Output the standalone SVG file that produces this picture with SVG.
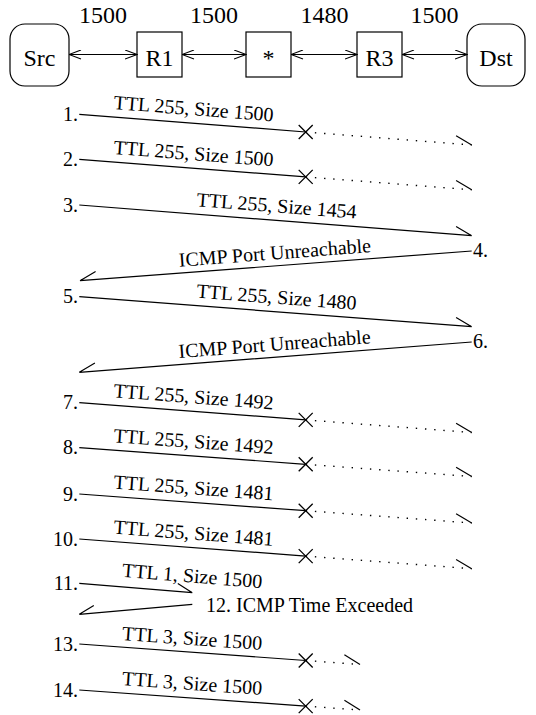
<svg xmlns="http://www.w3.org/2000/svg" width="536" height="715" viewBox="0 0 536 715" font-family="'Liberation Serif', 'Times New Roman', Times, serif">
<style>
text{font-family:'Liberation Serif','Times New Roman',Times,serif;fill:#000}
.big{font-size:24px}
.lbl{font-size:20px}
.box{fill:#fff;stroke:#000;stroke-width:1.2}
.link{stroke:#000;stroke-width:1.2;fill:none}
.msg{stroke:#000;stroke-width:1.2;fill:none}
.dot{stroke:#000;stroke-width:1.4;fill:none;stroke-dasharray:1.4 7.8}
.x{stroke:#000;stroke-width:1.3;fill:none}
</style>
<defs>
<marker id="v" viewBox="0 0 13 10" refX="12.5" refY="5" markerWidth="13" markerHeight="10" markerUnits="userSpaceOnUse" orient="auto-start-reverse">
<path d="M0.5,0.5 L12.5,5 L0.5,9.5" fill="none" stroke="#000" stroke-width="1.1"/>
</marker>
</defs>
<rect width="536" height="715" fill="#fff"/>

<g id="mtu-labels">
<text class="big" x="103" y="23" text-anchor="middle">1500</text>
<text class="big" x="214" y="23" text-anchor="middle">1500</text>
<text class="big" x="324.5" y="23" text-anchor="middle">1480</text>
<text class="big" x="434.5" y="23" text-anchor="middle">1500</text>
</g>

<g id="node-src"><rect class="box" x="10" y="24" width="59" height="62" rx="15"/><text class="big" x="39.5" y="66" text-anchor="middle">Src</text></g>
<g id="node-r1"><rect class="box" x="137" y="32" width="45" height="45"/><text class="big" x="159.5" y="66" text-anchor="middle">R1</text></g>
<g id="node-star"><rect class="box" x="246" y="32" width="45" height="45"/><text class="big" x="268.5" y="66" text-anchor="middle">*</text></g>
<g id="node-r3"><rect class="box" x="357" y="32" width="45" height="45"/><text class="big" x="379.5" y="66" text-anchor="middle">R3</text></g>
<g id="node-dst"><rect class="box" x="467" y="24" width="58" height="62" rx="15"/><text class="big" x="496" y="66" text-anchor="middle">Dst</text></g>

<g id="connectors">
<line class="link" x1="69" y1="54.5" x2="137" y2="54.5" marker-start="url(#v)" marker-end="url(#v)"/>
<line class="link" x1="182" y1="54.5" x2="246" y2="54.5" marker-start="url(#v)" marker-end="url(#v)"/>
<line class="link" x1="291" y1="54.5" x2="357" y2="54.5" marker-start="url(#v)" marker-end="url(#v)"/>
<line class="link" x1="402" y1="54.5" x2="467" y2="54.5" marker-start="url(#v)" marker-end="url(#v)"/>
</g>

<g id="messages">
<!-- 1 -->
<text class="lbl" x="78" y="120.8" text-anchor="end">1.</text>
<path class="msg" d="M79.3,114.3 L305.7,132"/>
<path class="dot" d="M305.7,132 L471.7,145"/>
<path class="msg" d="M456.1,135.8 L471.7,145"/>
<path class="x" d="M298.7,125 L312.7,139 M298.7,139 L312.7,125"/>
<text class="lbl" text-anchor="middle" transform="translate(192.5,123.15) rotate(4.47)" y="-8">TTL 255, Size 1500</text>
<!-- 2 -->
<text class="lbl" x="78" y="165.8" text-anchor="end">2.</text>
<path class="msg" d="M79.3,159.3 L305.7,176.9"/>
<path class="dot" d="M305.7,176.9 L471.7,189.8"/>
<path class="msg" d="M456.1,180.6 L471.7,189.8"/>
<path class="x" d="M298.7,169.9 L312.7,183.9 M298.7,183.9 L312.7,169.9"/>
<text class="lbl" text-anchor="middle" transform="translate(192.5,168.1) rotate(4.45)" y="-8">TTL 255, Size 1500</text>
<!-- 3 -->
<text class="lbl" x="78" y="211.5" text-anchor="end">3.</text>
<path class="msg" d="M79.3,205 L471.7,235.7 M456.1,226.5 L471.7,235.7"/>
<text class="lbl" text-anchor="middle" transform="translate(275.5,220.35) rotate(4.47)" y="-8">TTL 255, Size 1454</text>
<!-- 4 -->
<text class="lbl" x="473" y="257" text-anchor="start">4.</text>
<path class="msg" d="M471.7,251 L80,280.7 M95.6,271.5 L80,280.7"/>
<text class="lbl" text-anchor="middle" transform="translate(275.85,265.85) rotate(-4.34)" y="-6.5">ICMP Port Unreachable</text>
<!-- 5 -->
<text class="lbl" x="78" y="303.2" text-anchor="end">5.</text>
<path class="msg" d="M79.3,296.7 L471.7,326.7 M456.1,317.5 L471.7,326.7"/>
<text class="lbl" text-anchor="middle" transform="translate(275.5,311.7) rotate(4.37)" y="-8">TTL 255, Size 1480</text>
<!-- 6 -->
<text class="lbl" x="473" y="348" text-anchor="start">6.</text>
<path class="msg" d="M471.7,342 L79.3,372.3 M94.9,363.1 L79.3,372.3"/>
<text class="lbl" text-anchor="middle" transform="translate(275.5,357.15) rotate(-4.42)" y="-6.5">ICMP Port Unreachable</text>
<!-- 7 -->
<text class="lbl" x="78" y="409.2" text-anchor="end">7.</text>
<path class="msg" d="M79.3,402.7 L305.7,419.9"/>
<path class="dot" d="M305.7,419.9 L471.7,432.5"/>
<path class="msg" d="M456.1,423.3 L471.7,432.5"/>
<path class="x" d="M298.7,412.9 L312.7,426.9 M298.7,426.9 L312.7,412.9"/>
<text class="lbl" text-anchor="middle" transform="translate(192.5,411.3) rotate(4.34)" y="-8">TTL 255, Size 1492</text>
<!-- 8 -->
<text class="lbl" x="78" y="454.2" text-anchor="end">8.</text>
<path class="msg" d="M79.3,447.7 L305.7,464.3"/>
<path class="dot" d="M305.7,464.3 L471.7,476.5"/>
<path class="msg" d="M456.1,467.3 L471.7,476.5"/>
<path class="x" d="M298.7,457.3 L312.7,471.3 M298.7,471.3 L312.7,457.3"/>
<text class="lbl" text-anchor="middle" transform="translate(192.5,456) rotate(4.2)" y="-8">TTL 255, Size 1492</text>
<!-- 9 -->
<text class="lbl" x="78" y="500.5" text-anchor="end">9.</text>
<path class="msg" d="M79.3,494 L305.7,510.7"/>
<path class="dot" d="M305.7,510.7 L471.7,523"/>
<path class="msg" d="M456.1,513.8 L471.7,523"/>
<path class="x" d="M298.7,503.7 L312.7,517.7 M298.7,517.7 L312.7,503.7"/>
<text class="lbl" text-anchor="middle" transform="translate(192.5,502.4) rotate(4.23)" y="-8">TTL 255, Size 1481</text>
<!-- 10 -->
<text class="lbl" x="78" y="545.5" text-anchor="end">10.</text>
<path class="msg" d="M79.3,539 L305.7,556.1"/>
<path class="dot" d="M305.7,556.1 L471.7,568.7"/>
<path class="msg" d="M456.1,559.5 L471.7,568.7"/>
<path class="x" d="M298.7,549.1 L312.7,563.1 M298.7,563.1 L312.7,549.1"/>
<text class="lbl" text-anchor="middle" transform="translate(192.5,547.6) rotate(4.33)" y="-8">TTL 255, Size 1481</text>
<!-- 11 -->
<text class="lbl" x="78" y="589.5" text-anchor="end">11.</text>
<path class="msg" d="M79.3,583.3 L192.3,592.7 M177.8,583.5 L192.3,592.7"/>
<text class="lbl" text-anchor="middle" transform="translate(191.7,582.5) rotate(4.7)">TTL 1, Size 1500</text>
<!-- 12 -->
<path class="msg" d="M192.3,604.3 L79.3,614.3 M93.8,605.6 L79.3,614.3"/>
<text class="lbl" x="206" y="612" text-anchor="start">12. ICMP Time Exceeded</text>
<!-- 13 -->
<text class="lbl" x="78" y="651" text-anchor="end">13.</text>
<path class="msg" d="M79.3,644 L305.7,660.5"/>
<path class="dot" d="M305.7,660.5 L360,664.5"/>
<path class="msg" d="M344.4,654.8 L360,664.5"/>
<path class="x" d="M298.7,653.5 L312.7,667.5 M298.7,667.5 L312.7,653.5"/>
<text class="lbl" text-anchor="middle" transform="translate(191.7,645) rotate(4.1)">TTL 3, Size 1500</text>
<!-- 14 -->
<text class="lbl" x="78" y="696.5" text-anchor="end">14.</text>
<path class="msg" d="M79.3,690 L305.7,706.1"/>
<path class="dot" d="M305.7,706.1 L360,710"/>
<path class="msg" d="M344.4,700.3 L360,710"/>
<path class="x" d="M298.7,699.1 L312.7,713.1 M298.7,713.1 L312.7,699.1"/>
<text class="lbl" text-anchor="middle" transform="translate(191.7,690) rotate(4.1)">TTL 3, Size 1500</text>
</g>
</svg>
